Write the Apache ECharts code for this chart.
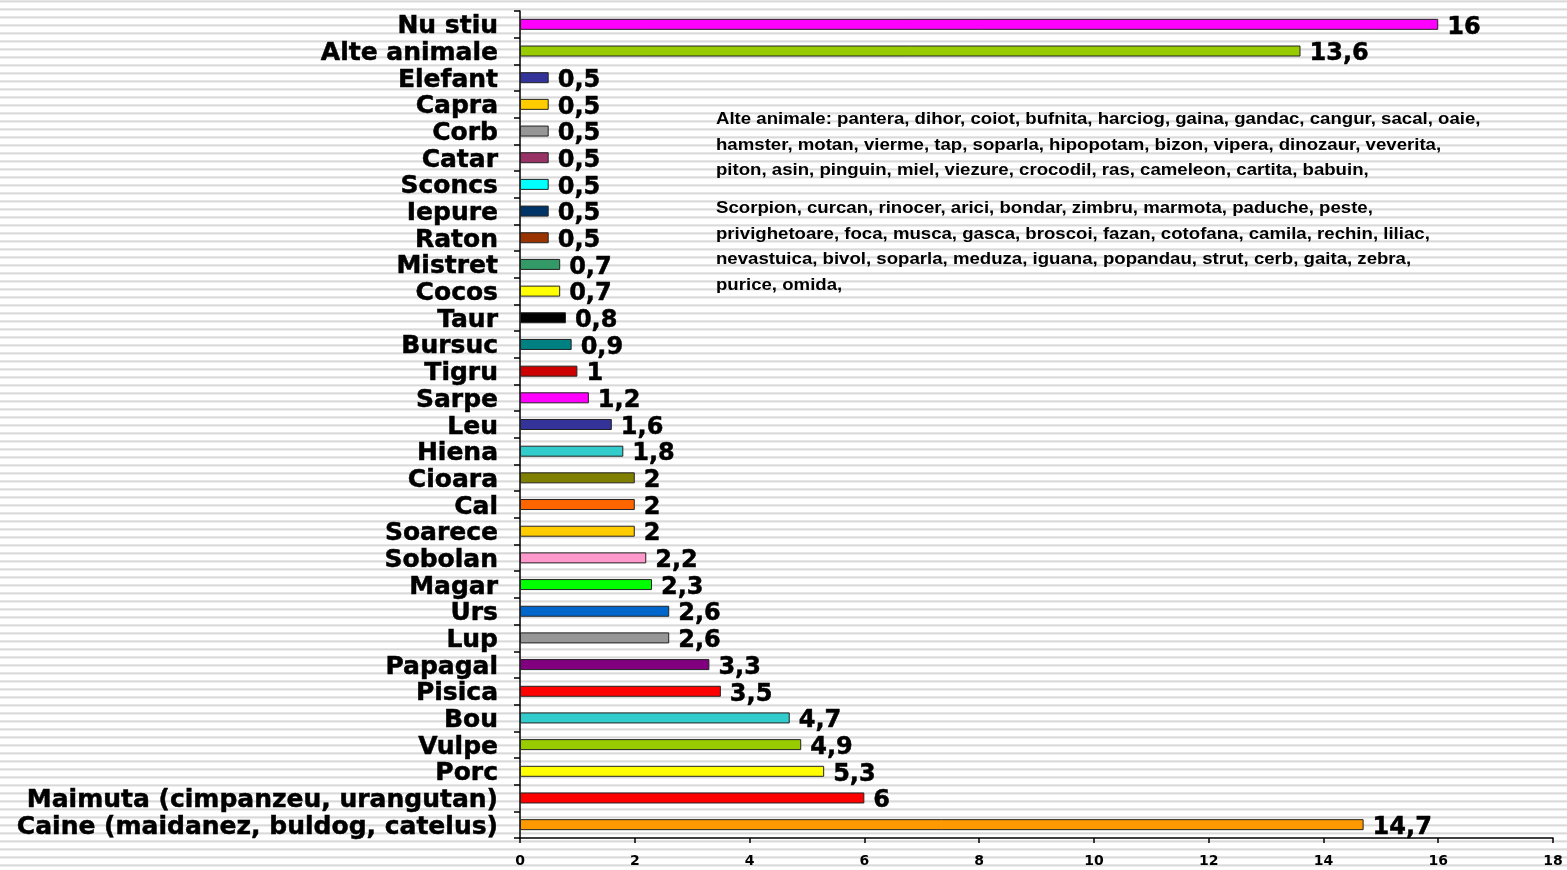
<!DOCTYPE html>
<html><head><meta charset="utf-8">
<script src="https://cdn.jsdelivr.net/npm/echarts@6/dist/echarts.min.js"></script>
<style>html,body{margin:0;padding:0;background:#fff}#c{width:1567px;height:870px}</style>
</head><body><div id="c"></div>
<script>
// Categories listed top to bottom
const categories = ["Nu stiu","Alte animale","Elefant","Capra","Corb","Catar","Sconcs","Iepure","Raton","Mistret","Cocos","Taur","Bursuc","Tigru","Sarpe","Leu","Hiena","Cioara","Cal","Soarece","Sobolan","Magar","Urs","Lup","Papagal","Pisica","Bou","Vulpe","Porc","Maimuta (cimpanzeu, urangutan)","Caine (maidanez, buldog, catelus)"];
const values = [16,13.6,0.5,0.5,0.5,0.5,0.5,0.5,0.5,0.7,0.7,0.8,0.9,1,1.2,1.6,1.8,2,2,2,2.2,2.3,2.6,2.6,3.3,3.5,4.7,4.9,5.3,6,14.7];
const barColors = ["#FF00FF","#99CC00","#333399","#FFCC00","#969696","#993366","#00FFFF","#003366","#993300","#339966","#FFFF00","#000000","#008080","#CC0000","#FF00FF","#333399","#33CCCC","#808000","#FF6600","#FFCC00","#FF99CC","#00FF00","#0066CC","#969696","#800080","#FF0000","#33CCCC","#99CC00","#FFFF00","#FF0000","#FF9900"];
const xTicks = [0,2,4,6,8,10,12,14,16,18];
const noteLines1 = ["Alte animale: pantera, dihor, coiot, bufnita, harciog, gaina, gandac, cangur, sacal, oaie,","hamster, motan, vierme, tap, soparla, hipopotam, bizon, vipera, dinozaur, veverita,","piton, asin, pinguin, miel, viezure, crocodil, ras, cameleon, cartita, babuin,"];
const noteLines2 = ["Scorpion, curcan, rinocer, arici, bondar, zimbru, marmota, paduche, peste,","privighetoare, foca, musca, gasca, broscoi, fazan, cotofana, camila, rechin, liliac,","nevastuica, bivol, soparla, meduza, iguana, popandau, strut, cerb, gaita, zebra,","purice, omida,"];

// striped background pattern
const pc = document.createElement('canvas');
pc.width = 8; pc.height = 8;
const px = pc.getContext('2d');
px.fillStyle = '#ffffff'; px.fillRect(0,0,8,8);
px.fillStyle = '#e6e6e6'; px.fillRect(0,0,8,1);
px.fillStyle = '#d9d9d9'; px.fillRect(0,1,8,1);
px.fillStyle = '#efefef'; px.fillRect(0,2,8,1);

const chart = echarts.init(document.getElementById('c'));
const F = 'DejaVu Sans, Verdana, sans-serif';
const NF = 'Liberation Sans';
const noteStyle = {fill: '#000', fontFamily: NF, fontWeight: 'bold', fontSize: 17, lineHeight: 25.4};
chart.setOption({
  backgroundColor: {image: pc, repeat: 'repeat'},
  animation: false,
  grid: {left: 520, right: 14, top: 11, bottom: 32, containLabel: false},
  xAxis: {
    type: 'value', min: 0, max: 18, interval: 2,
    splitLine: {show: false},
    axisLine: {show: true, lineStyle: {color: '#000', width: 1.5}},
    axisTick: {show: true, length: 5, lineStyle: {color: '#000', width: 1.5}},
    axisLabel: {color: '#000', fontFamily: F, fontWeight: 'bold', fontSize: 14, margin: 16,
      formatter: v => xTicks.includes(v) ? String(v) : ''}
  },
  yAxis: {
    type: 'category', data: categories, inverse: true,
    axisLine: {show: true, lineStyle: {color: '#000', width: 1.5}},
    axisTick: {show: true, length: 6, lineStyle: {color: '#000', width: 1.5}},
    axisLabel: {interval: 0, margin: 22,
      formatter: v => '{a|' + v + '}',
      rich: {a: {color: '#000', fontFamily: F, fontWeight: 'bold', fontSize: 25,
        padding: [5, 0, 0, 0], textBorderColor: '#000', textBorderWidth: 0.5}}}
  },
  series: [{
    type: 'bar',
    barWidth: 11,
    data: values.map((v,i) => ({value: v, itemStyle: {color: barColors[i]}})),
    itemStyle: {borderColor: '#222', borderWidth: 1},
    label: {show: true, position: 'right', distance: 9, offset: [0, 3], color: '#000',
      fontFamily: F, fontWeight: 'bold', fontSize: 24, textBorderColor: '#000', textBorderWidth: 0.5,
      formatter: p => String(p.value).replace('.', ',')}
  }],
  graphic: [
    {type: 'text', x: 716, y: 107, scaleX: 1.095, style: Object.assign({text: noteLines1.join('\n')}, noteStyle)},
    {type: 'text', x: 716, y: 196, scaleX: 1.095, style: Object.assign({text: noteLines2.join('\n')}, noteStyle)}
  ]
});
</script></body></html>
